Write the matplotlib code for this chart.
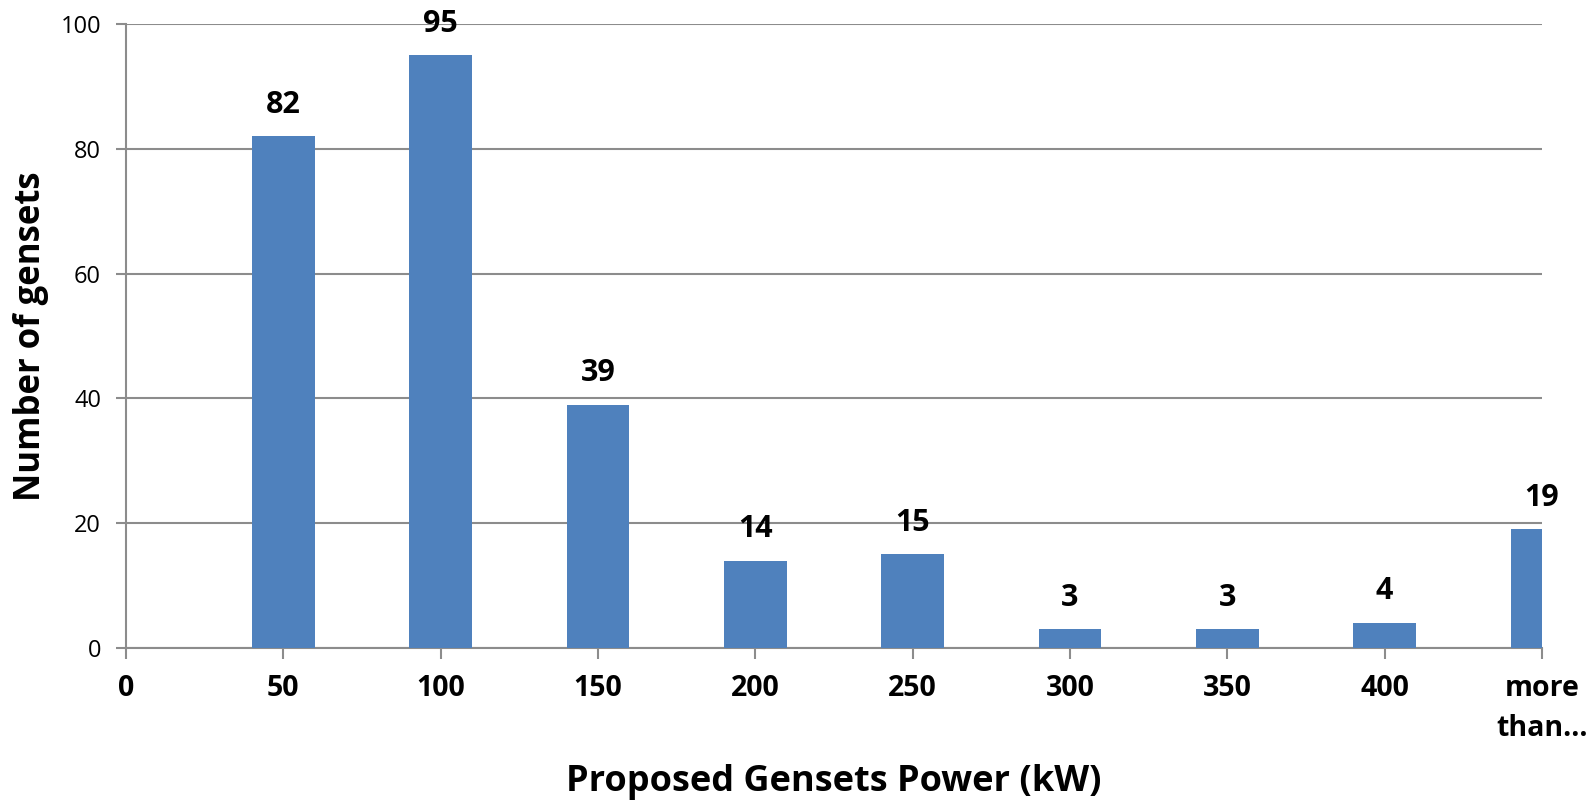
import matplotlib.pyplot as plt
import numpy as np

plt.rcParams['font.family'] = ['Open Sans', 'DejaVu Sans']

# data
categories = ['0', '50', '100', '150', '200', '250', '300', '350', '400', 'more\nthan...']
gensets = [0, 82, 95, 39, 14, 15, 3, 3, 4, 19]

bar_color = '#4F81BD'
grid_color = '#8C8C8C'

fig = plt.figure(figsize=(15.91, 8.01), dpi=100)
ax = fig.add_axes([0.0792, 0.191, 0.89, 0.779])

x = np.arange(len(categories))
ax.bar(x, gensets, width=0.4, color=bar_color, zorder=3)

# value labels above bars (skip empty category)
for xi, v in zip(x, gensets):
    if v > 0:
        ax.annotate(str(v), (xi, v), xytext=(0, 12), textcoords='offset points',
                    ha='center', va='bottom', fontsize=22, fontweight='bold',
                    annotation_clip=False)

ax.set_xlim(0, len(categories) - 1)
ax.set_ylim(0, 100)
ax.set_yticks(range(0, 101, 20))
ax.set_xticks(x)
ax.set_xticklabels(categories, fontsize=20.5, fontweight='bold', linespacing=1.5)
ax.tick_params(axis='x', length=8, width=1.5, color=grid_color, pad=11, direction='out')
ax.tick_params(axis='y', length=7, width=1.5, color=grid_color, pad=11, labelsize=17)
for lab in ax.get_xticklabels():
    lab.set_verticalalignment('top')

ax.yaxis.grid(True, color=grid_color, linewidth=1.5, zorder=0)
for s in ['top', 'right']:
    ax.spines[s].set_visible(False)
for s in ['left', 'bottom']:
    ax.spines[s].set_color(grid_color)
    ax.spines[s].set_linewidth(1.5)

ax.set_xlabel('Proposed Gensets Power (kW)', fontsize=26, fontweight='bold')
ax.xaxis.set_label_coords(0.5, -0.215)
ax.xaxis.label.set_verticalalignment('center')
ax.set_ylabel('Number of gensets', fontsize=25, fontweight='bold', labelpad=8)

fig.savefig('out.png', dpi=100)
